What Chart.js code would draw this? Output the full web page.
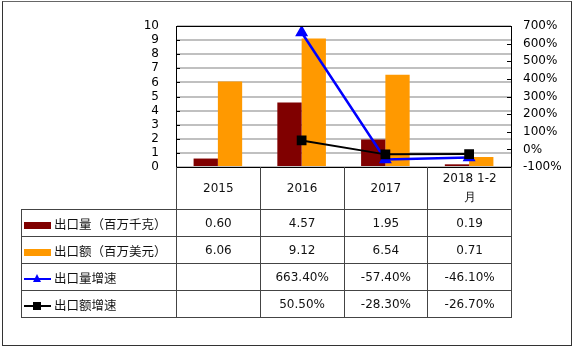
<!DOCTYPE html>
<html>
<head>
<meta charset="utf-8">
<script src="https://cdn.jsdelivr.net/npm/chart.js@4.4.1/dist/chart.umd.min.js"></script>
<style>
  body { margin: 0; background: #fff; }
  #wrap { position: relative; width: 574px; height: 347px; }
  #marco { position: absolute; left: 2px; top: 1px; width: 570px; height: 345px; box-sizing: border-box;
           border: 1px solid #333; border-top-color: #666; }
  #tabla { position: absolute; border-collapse: collapse; table-layout: fixed;
           font-family: "DejaVu Sans", sans-serif; font-size: 12px; color: #111; }
  #tabla td { border: 1px solid #444; text-align: center; padding: 0; line-height: 19px; }
  #tabla tr.cab td { height: 42px; border-top: none; }
  #tabla tr.cab td.vacia { border: none; }
  #tabla tr.fila td { height: 26px; }
  #tabla td.nombre { text-align: left; padding-left: 2px; white-space: nowrap;
                     font-family: "Noto Sans CJK SC", sans-serif; font-size: 12.5px; }
  .marca { display: inline-block; position: relative; width: 27px; height: 10px; vertical-align: middle; margin-right: 3px; }
  .marca .barra { position: absolute; left: 0; top: 2px; width: 27px; height: 7px; }
  .marca .linea { position: absolute; left: 0; top: 4px; width: 27px; height: 2px; }
  .marca .cuadro { position: absolute; left: 9px; top: 1px; width: 8px; height: 8px; background: #000; }
  .marca .tri { position: absolute; left: 9px; top: 0; width: 0; height: 0;
                border-left: 4.5px solid transparent; border-right: 4.5px solid transparent; border-bottom: 8px solid #0000ff; }
</style>
</head>
<body>
<div id="wrap">
  <canvas id="grafico" width="574" height="347"></canvas>
  <div id="marco"></div>
  <table id="tabla"></table>
</div>
<script>
// Datos del gráfico
const categorias = ['2015', '2016', '2017', ['2018 1-2', '月']];
const volumen = [0.60, 4.57, 1.95, 0.19];        // 出口量（百万千克）
const valor = [6.06, 9.12, 6.54, 0.71];          // 出口额（百万美元）
const crecVolumen = [null, 663.4, -57.4, -46.1]; // 出口量增速 (%)
const crecValor = [null, 50.5, -28.3, -26.7];    // 出口额增速 (%)
const ticksIzq = [0, 1, 2, 3, 4, 5, 6, 7, 8, 9, 10];
const ticksDer = [-100, 0, 100, 200, 300, 400, 500, 600, 700];

const series = [
    { nombre: '出口量（百万千克）', datos: volumen, tipo: 'barra', color: '#800000', fmt: v => v.toFixed(2) },
    { nombre: '出口额（百万美元）', datos: valor, tipo: 'barra', color: '#ff9900', fmt: v => v.toFixed(2) },
    { nombre: '出口量增速', datos: crecVolumen, tipo: 'tri', color: '#0000ff', fmt: v => v.toFixed(2) + '%' },
    { nombre: '出口额增速', datos: crecValor, tipo: 'cuadro', color: '#000000', fmt: v => v.toFixed(2) + '%' }
];

const fuenteEje = { family: 'DejaVu Sans', size: 12 };

// Marcas de graduación hacia dentro y marco del área de trazado, como en Excel
const marcasInternas = {
    id: 'marcasInternas',
    afterDatasetsDraw(chart) {
        const ctx = chart.ctx;
        const area = chart.chartArea;
        const escala = chart.scales.y;
        const arriba = Math.round(area.top) + 0.5;
        const abajo = Math.round(area.bottom) + 0.5;
        ctx.save();
        ctx.strokeStyle = '#000';
        ctx.lineWidth = 1;
        ctx.beginPath();
        escala.ticks.forEach(t => {
            const y = Math.round(escala.getPixelForValue(t.value)) + 0.5;
            ctx.moveTo(area.left, y);
            ctx.lineTo(area.left + 4, y);
        });
        chart.scales.y1.ticks.forEach(t => {
            const y = Math.round(chart.scales.y1.getPixelForValue(t.value)) + 0.5;
            ctx.moveTo(area.right - 4, y);
            ctx.lineTo(area.right, y);
        });
        ctx.moveTo(area.left, arriba);
        ctx.lineTo(area.right, arriba);
        ctx.moveTo(area.left, abajo);
        ctx.lineTo(area.right, abajo);
        ctx.stroke();
        ctx.restore();
    }
};

const ctx = document.getElementById('grafico').getContext('2d');
const grafico = new Chart(ctx, {
    type: 'bar',
    data: {
        labels: categorias,
        datasets: [
            { type: 'line', label: series[2].nombre, data: crecVolumen, yAxisID: 'y1', order: 1,
              borderColor: '#0000ff', backgroundColor: '#0000ff', borderWidth: 2.5,
              pointStyle: 'triangle', pointRadius: 5, tension: 0 },
            { type: 'line', label: series[3].nombre, data: crecValor, yAxisID: 'y1', order: 0,
              borderColor: '#000000', backgroundColor: '#000000', borderWidth: 2,
              pointStyle: 'rect', pointRadius: 5.5, tension: 0 },
            { label: series[0].nombre, data: volumen, yAxisID: 'y', order: 2,
              backgroundColor: '#800000', barPercentage: 1, categoryPercentage: 0.58 },
            { label: series[1].nombre, data: valor, yAxisID: 'y', order: 2,
              backgroundColor: '#ff9900', barPercentage: 1, categoryPercentage: 0.58 }
        ]
    },
    options: {
        responsive: false,
        animation: false,
        layout: { padding: { top: 26, bottom: 180, left: 0, right: 0 } },
        plugins: { legend: { display: false }, tooltip: { enabled: false } },
        scales: {
            x: { display: false },
            y: {
                position: 'left', min: 0, max: 10,
                afterFit: s => { s.width = 176; },
                afterBuildTicks: s => { s.ticks = ticksIzq.map(v => ({ value: v })); },
                grid: { drawTicks: false, color: '#c0c0c0', lineWidth: 2 },
                border: { display: true, color: '#000', width: 1 },
                ticks: { color: '#000', font: fuenteEje, padding: 17, autoSkip: false }
            },
            y1: {
                position: 'right', min: -100, max: 700,
                afterFit: s => { s.width = 63; },
                afterBuildTicks: s => { s.ticks = ticksDer.map(v => ({ value: v })); },
                grid: { drawOnChartArea: false, drawTicks: false },
                border: { display: true, color: '#000', width: 1 },
                ticks: { color: '#000', font: fuenteEje, padding: 12, autoSkip: false, callback: v => v + '%' }
            }
        }
    },
    plugins: [marcasInternas]
});

// Tabla de datos debajo del gráfico, alineada con el área de trazado
function construirTabla() {
    const area = grafico.chartArea;
    const anchoCol = (area.right - area.left) / categorias.length;
    const anchoNombre = 155;
    const tabla = document.getElementById('tabla');
    tabla.style.left = (area.left - anchoNombre) + 'px';
    tabla.style.top = area.bottom + 'px';
    tabla.style.width = (anchoNombre + anchoCol * categorias.length) + 'px';

    let html = '<colgroup><col style="width:' + anchoNombre + 'px">';
    categorias.forEach(() => { html += '<col style="width:' + anchoCol + 'px">'; });
    html += '</colgroup>';

    html += '<tr class="cab"><td class="vacia"></td>';
    categorias.forEach(c => {
        html += '<td>' + (Array.isArray(c) ? c.join('<br>') : c) + '</td>';
    });
    html += '</tr>';

    series.forEach(s => {
        let marca;
        if (s.tipo === 'barra') {
            marca = '<span class="barra" style="background:' + s.color + '"></span>';
        } else if (s.tipo === 'tri') {
            marca = '<span class="linea" style="background:' + s.color + '"></span><span class="tri"></span>';
        } else {
            marca = '<span class="linea" style="background:' + s.color + '"></span><span class="cuadro"></span>';
        }
        html += '<tr class="fila"><td class="nombre"><span class="marca">' + marca + '</span>' + s.nombre + '</td>';
        s.datos.forEach(v => {
            html += '<td>' + (v === null ? '' : s.fmt(v)) + '</td>';
        });
        html += '</tr>';
    });
    tabla.innerHTML = html;
}

construirTabla();
</script>
</body>
</html>
